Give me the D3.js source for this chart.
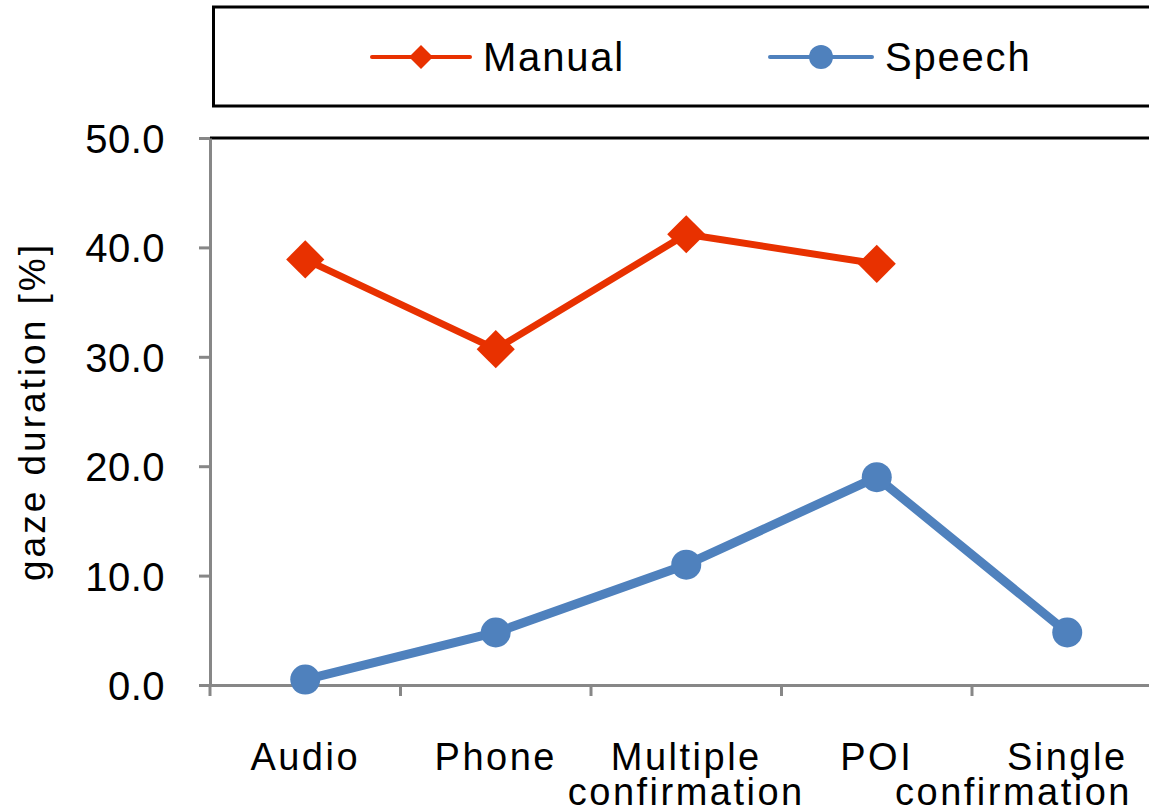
<!DOCTYPE html>
<html>
<head>
<meta charset="utf-8">
<script src="https://cdn.jsdelivr.net/npm/d3@7"></script>
<style>
  html, body { margin: 0; padding: 0; background: #fff; overflow: hidden; }
  text { font-family: "Liberation Sans", Arial, sans-serif; }
</style>
</head>
<body>
<svg id="chart" width="1149" height="811"></svg>
<script>
const categories = ["Audio", "Phone", "Multiple\nconfirmation", "POI", "Single\nconfirmation"];
const manualValues = [38.9, 30.7, 41.2, 38.5, null];
const speechValues = [0.5, 4.8, 11.0, 19.0, 4.8];
const yTicks = [0, 10, 20, 30, 40, 50];
const seriesNames = ["Manual", "Speech"];
const yTitle = "gaze duration [%]";

const W = 1149, H = 811;
const margin = { left: 210, top: 138, bottom: 126 };
const bandW = 190.5;
const svg = d3.select("#chart");
const red = "#E83100", blue = "#4F81BD", axisGray = "#878787";

const x = d3.scaleBand().domain(categories).range([margin.left, margin.left + bandW * categories.length]).padding(0);
const y = d3.scaleLinear().domain([0, 50]).range([H - margin.bottom, margin.top]);

// plot top border
svg.append("line").attr("x1", margin.left).attr("x2", W + 5)
  .attr("y1", y(50)).attr("y2", y(50)).attr("stroke", "#000").attr("stroke-width", 3);

// y axis
const yAxis = d3.axisLeft(y).tickValues(yTicks).tickFormat(d3.format(".1f")).tickSize(11).tickSizeOuter(0);
const gy = svg.append("g").attr("transform", `translate(${margin.left},0)`).call(yAxis);
gy.select(".domain").attr("stroke", axisGray).attr("stroke-width", 3);
gy.selectAll(".tick line").attr("stroke", axisGray).attr("stroke-width", 3);
gy.selectAll(".tick text").attr("x", -45).attr("dy", "0.36em")
  .style("font-size", "40px").style("letter-spacing", "0.5px")
  .style("font-family", "Liberation Sans, Arial, sans-serif").attr("fill", "#000");

// x axis
const xAxis = d3.axisBottom(x).tickSize(11).tickSizeOuter(0).tickFormat("");
const gx = svg.append("g").attr("transform", `translate(0,${y(0)})`).call(xAxis);
gx.select(".domain").attr("stroke", axisGray).attr("stroke-width", 3);
gx.selectAll(".tick line").attr("stroke", axisGray).attr("stroke-width", 3)
  .attr("transform", `translate(${-bandW / 2},0)`);
// x labels
categories.forEach((c, i) => {
  const lines = c.split("\n");
  lines.forEach((ln, j) => {
    const t = svg.append("text")
      .attr("x", x(c) + bandW / 2)
      .attr("y", 770 + j * 35)
      .attr("text-anchor", "middle")
      .style("font-size", "38px")
      .style("letter-spacing", "2.5px")
      .attr("fill", "#000")
      .text(ln);
    const len = t.node().getComputedTextLength();
    const cx = x(c) + bandW / 2;
    if (cx + len / 2 > 1132) t.attr("x", 1132 - len / 2);
  });
});

// y title
svg.append("text")
  .attr("transform", `translate(45,${(y(0) + y(50)) / 2}) rotate(-90)`)
  .attr("text-anchor", "middle")
  .style("font-size", "37px")
  .style("letter-spacing", "3px")
  .attr("fill", "#000")
  .text(yTitle);

// lines
const lineGen = d3.line()
  .defined(d => d.v !== null)
  .x(d => x(d.c) + bandW / 2)
  .y(d => y(d.v));

const manualData = categories.map((c, i) => ({ c, v: manualValues[i] }));
const speechData = categories.map((c, i) => ({ c, v: speechValues[i] }));

svg.append("path").datum(manualData).attr("d", lineGen)
  .attr("fill", "none").attr("stroke", red).attr("stroke-width", 7).attr("stroke-linejoin", "round");
svg.append("path").datum(speechData).attr("d", lineGen)
  .attr("fill", "none").attr("stroke", blue).attr("stroke-width", 9).attr("stroke-linejoin", "round");

const diamond = d3.symbol().type(d3.symbolSquare).size(27 * 27);
svg.selectAll(".mk").data(manualData.filter(d => d.v !== null)).enter().append("path")
  .attr("d", diamond)
  .attr("transform", d => `translate(${x(d.c) + bandW / 2},${y(d.v)}) rotate(45)`)
  .attr("fill", red);
svg.selectAll(".sk").data(speechData.filter(d => d.v !== null)).enter().append("circle")
  .attr("cx", d => x(d.c) + bandW / 2).attr("cy", d => y(d.v)).attr("r", 15)
  .attr("fill", blue);

// legend
svg.append("rect").attr("x", 213.5).attr("y", 7).attr("width", 1000).attr("height", 99)
  .attr("fill", "none").attr("stroke", "#000").attr("stroke-width", 3);
const legItems = [
  { name: seriesNames[0], color: red, x0: 372, x1: 470, tx: 483, shape: "diamond", sw: 4 },
  { name: seriesNames[1], color: blue, x0: 770, x1: 872, tx: 885, shape: "circle", sw: 4 }
];
legItems.forEach(it => {
  const ly = 57;
  svg.append("line").attr("x1", it.x0).attr("x2", it.x1).attr("y1", ly).attr("y2", ly)
    .attr("stroke", it.color).attr("stroke-width", it.sw).attr("stroke-linecap", "round");
  const cx = (it.x0 + it.x1) / 2;
  if (it.shape === "diamond") {
    svg.append("path").attr("d", d3.symbol().type(d3.symbolSquare).size(17 * 17))
      .attr("transform", `translate(${cx},${ly}) rotate(45)`).attr("fill", it.color);
  } else {
    svg.append("circle").attr("cx", cx).attr("cy", ly).attr("r", 12).attr("fill", it.color);
  }
  svg.append("text").attr("x", it.tx).attr("y", ly).attr("dy", "0.36em")
    .style("font-size", "40px").style("letter-spacing", "1.8px").attr("fill", "#000").text(it.name);
});
</script>
</body>
</html>
